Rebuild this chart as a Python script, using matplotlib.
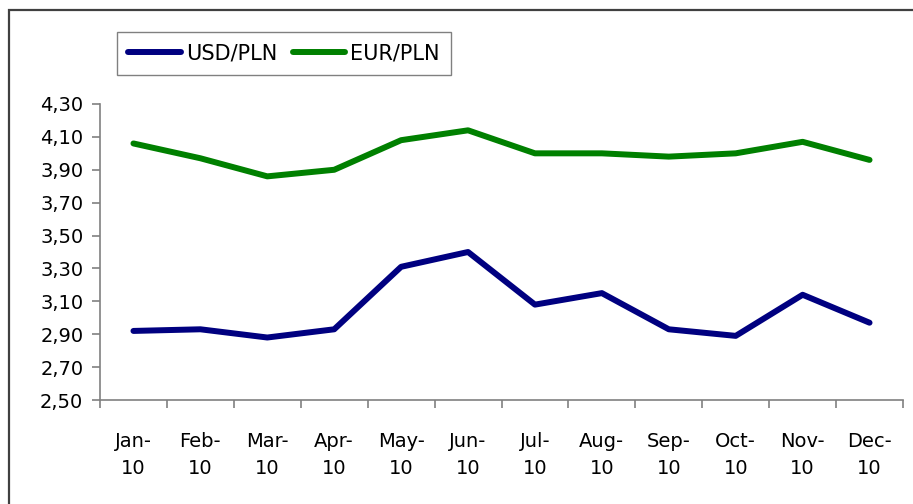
import matplotlib
matplotlib.use("Agg")
import matplotlib.pyplot as plt
from matplotlib.patches import Rectangle
from matplotlib.ticker import FixedLocator, FuncFormatter

months = ["Jan-\n10", "Feb-\n10", "Mar-\n10", "Apr-\n10", "May-\n10", "Jun-\n10",
          "Jul-\n10", "Aug-\n10", "Sep-\n10", "Oct-\n10", "Nov-\n10", "Dec-\n10"]
usd_pln = [2.92, 2.93, 2.88, 2.93, 3.31, 3.40, 3.08, 3.15, 2.93, 2.89, 3.14, 2.97]
eur_pln = [4.06, 3.97, 3.86, 3.90, 4.08, 4.14, 4.00, 4.00, 3.98, 4.00, 4.07, 3.96]
y_ticks = [2.50, 2.70, 2.90, 3.10, 3.30, 3.50, 3.70, 3.90, 4.10, 4.30]

plt.rcParams['font.family'] = ['DejaVu Sans']

FS = 14
W, H = 913, 504
fig = plt.figure(figsize=(W / 100, H / 100), dpi=100)
fig.patches.append(Rectangle((9 / W, -0.1), 1.2, (504 - 10) / H + 0.1,
                             transform=fig.transFigure, fill=False,
                             edgecolor='#404040', linewidth=1.6))

ax = fig.add_axes([100 / W, (H - 400) / H, (903 - 100) / W, (400 - 104) / H])
x = list(range(len(months)))
ax.plot(x, usd_pln, color='#000080', linewidth=4.3, solid_capstyle='round', label='USD/PLN')
ax.plot(x, eur_pln, color='#008000', linewidth=4.3, solid_capstyle='round', label='EUR/PLN')

ax.set_xlim(-0.5, len(months) - 0.5)
ax.set_ylim(2.50, 4.30)
ax.set_yticks(y_ticks)
ax.yaxis.set_major_formatter(FuncFormatter(lambda v, p: f"{v:.2f}".replace('.', ',')))

ax.xaxis.set_major_locator(FixedLocator([i - 0.5 for i in range(len(months) + 1)]))
ax.xaxis.set_minor_locator(FixedLocator(x))
ax.set_xticklabels([''] * (len(months) + 1))
ax.set_xticklabels(months, minor=True)
ax.tick_params(axis='x', which='major', direction='out', length=6, color='#808080', width=1.2)
ax.tick_params(axis='x', which='minor', length=0, pad=23, labelsize=FS)
ax.tick_params(axis='y', direction='out', length=6, color='#808080', width=1.2, labelsize=FS, pad=6)
for lbl in ax.get_xticklabels(minor=True):
    lbl.set_linespacing(1.55)

for s in ['top', 'right']:
    ax.spines[s].set_visible(False)
for s in ['left', 'bottom']:
    ax.spines[s].set_color('#808080')
    ax.spines[s].set_linewidth(1.2)

leg = fig.legend(loc='upper left', bbox_to_anchor=(117 / W, 1 - 32 / H), ncol=2,
                 frameon=True, fancybox=False, edgecolor='#606060', fontsize=15,
                 handlelength=2.5, handletextpad=0.25, columnspacing=0.75,
                 borderpad=0.55, borderaxespad=0)
leg.get_frame().set_linewidth(1.0)

fig.savefig('out.png', dpi=100)
